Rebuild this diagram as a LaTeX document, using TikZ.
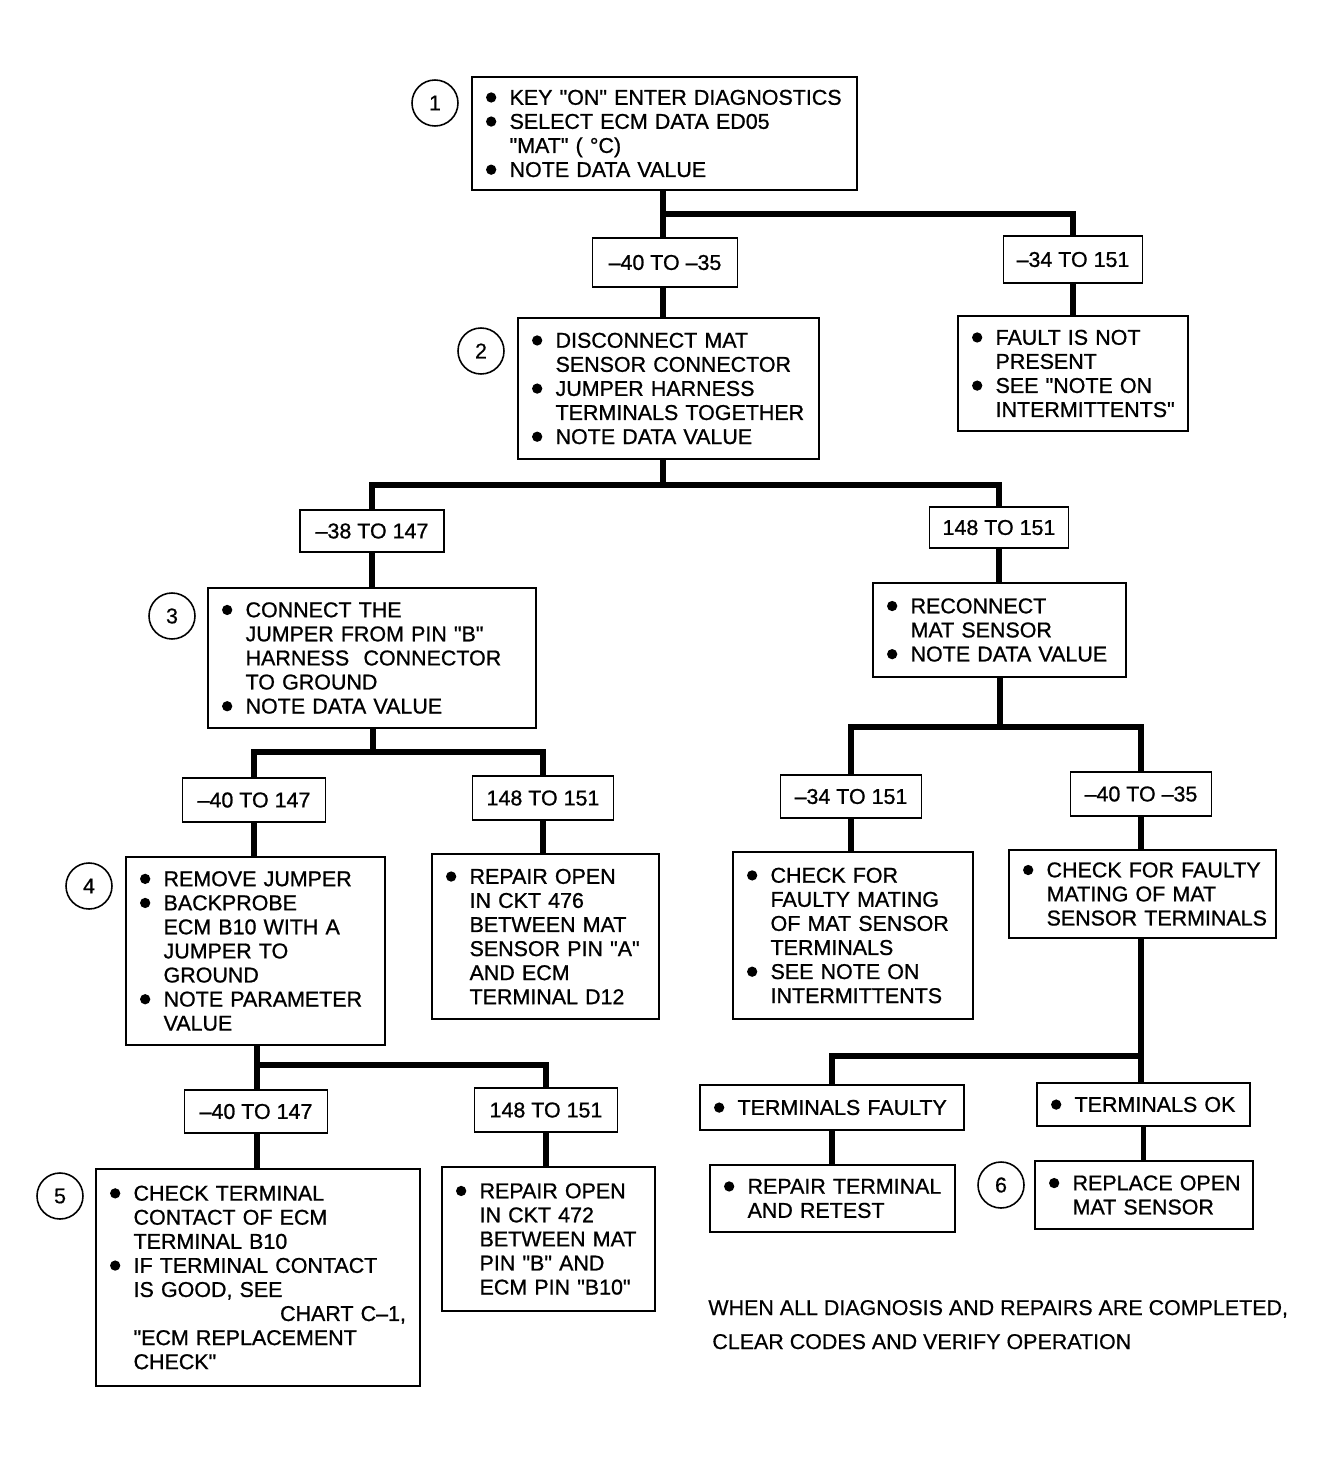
\documentclass[tikz,border=0pt]{standalone}
\usepackage{fontspec}
\newfontfamily\chartfont[FakeBold=0.9]{Liberation Sans}
\newfontfamily\notefont[FakeBold=0.5]{Liberation Sans}
\newcommand{\bul}{\makebox[1.1em][l]{\tikz[baseline=-0.34em]\fill (0.24em,0) circle (0.24em);}}
\newcommand{\itm}[1]{\mbox{\bul#1}}
\newcommand{\cnt}[1]{\mbox{\hspace*{1.1em}#1}}
\begin{document}
\begin{tikzpicture}[x=0.02cm, y=-0.02cm,
	box/.style={draw, line width=1.1pt, inner xsep=0.28cm, inner ysep=0pt, align=left, font=\chartfont\fontsize{12.2}{13.7}\selectfont},
	rangebox/.style={draw, line width=1.1pt, inner sep=0pt, font=\chartfont\fontsize{12.2}{13.7}\selectfont},
	num/.style={circle, draw, line width=0.9pt, minimum size=0.92cm, inner sep=0pt, font=\notefont\fontsize{12.2}{13.7}\selectfont},
	conn/.style={line width=3pt}]
	\useasboundingbox (0,0) rectangle (1338,1463);
	% steps
	\node[num] (c1) at (435,103) {1};
	\node[box, text width=7.14cm, minimum height=2.26cm] (b1) at (664.5,133.5) {\itm{KEY "ON" ENTER DIAGNOSTICS}\\ \itm{SELECT ECM DATA ED05}\\ \cnt{"MAT" ( °C)}\\ \itm{NOTE DATA VALUE}};
	\node[num] (c2) at (481,351) {2};
	\node[box, text width=5.46cm, minimum height=2.82cm] (b2) at (668.5,388.5) {\itm{DISCONNECT MAT}\\ \cnt{SENSOR CONNECTOR}\\ \itm{JUMPER HARNESS}\\ \cnt{TERMINALS TOGETHER}\\ \itm{NOTE DATA VALUE}};
	\node[box, text width=4.04cm, minimum height=2.3cm] (r1) at (1073,373.5) {\itm{FAULT IS NOT}\\ \cnt{PRESENT}\\ \itm{SEE "NOTE ON}\\ \cnt{INTERMITTENTS"}};
	\node[num] (c3) at (172,616) {3};
	\node[box, text width=6.0cm, minimum height=2.8cm] (b3) at (372,658) {\itm{CONNECT THE}\\ \cnt{JUMPER FROM PIN "B"}\\ \cnt{HARNESS\ \ CONNECTOR}\\ \cnt{TO GROUND}\\ \itm{NOTE DATA VALUE}};
	\node[box, text width=4.5cm, minimum height=1.88cm] (r2) at (999.5,630) {\itm{RECONNECT}\\ \cnt{MAT SENSOR}\\ \itm{NOTE DATA VALUE}};
	\node[num] (c4) at (89,886) {4};
	\node[box, text width=4.62cm, minimum height=3.76cm] (b4) at (255.5,951) {\itm{REMOVE JUMPER}\\ \itm{BACKPROBE}\\ \cnt{ECM B10 WITH A}\\ \cnt{JUMPER TO}\\ \cnt{GROUND}\\ \itm{NOTE PARAMETER}\\ \cnt{VALUE}};
	\node[box, text width=3.98cm, minimum height=3.3cm] (b476) at (545.5,936.5) {\itm{REPAIR OPEN}\\ \cnt{IN CKT 476}\\ \cnt{BETWEEN MAT}\\ \cnt{SENSOR PIN "A"}\\ \cnt{AND ECM}\\ \cnt{TERMINAL D12}};
	\node[box, text width=4.24cm, minimum height=3.34cm] (cf1) at (853,935.5) {\itm{CHECK FOR}\\ \cnt{FAULTY MATING}\\ \cnt{OF MAT SENSOR}\\ \cnt{TERMINALS}\\ \itm{SEE NOTE ON}\\ \cnt{INTERMITTENTS}};
	\node[box, text width=4.78cm, minimum height=1.76cm] (cf2) at (1142.5,894) {\itm{CHECK FOR FAULTY}\\ \cnt{MATING OF MAT}\\ \cnt{SENSOR TERMINALS}};
	\node[num] (c5) at (60,1196) {5};
	\node[box, text width=5.92cm, minimum height=4.34cm] (b5) at (258,1277.5) {\itm{CHECK TERMINAL}\\ \cnt{CONTACT OF ECM}\\ \cnt{TERMINAL B10}\\ \itm{IF TERMINAL CONTACT}\\ \cnt{IS GOOD, SEE}\\ \hfill CHART C–1,\\ \cnt{"ECM REPLACEMENT}\\ \cnt{CHECK"}};
	\node[box, text width=3.7cm, minimum height=2.88cm] (b472) at (548.5,1239) {\itm{REPAIR OPEN}\\ \cnt{IN CKT 472}\\ \cnt{BETWEEN MAT}\\ \cnt{PIN "B" AND}\\ \cnt{ECM PIN "B10"}};
	\node[box, text width=4.72cm, minimum height=0.9cm] (tf) at (832,1107.5) {\itm{TERMINALS FAULTY}};
	\node[box, text width=3.7cm, minimum height=0.86cm] (tok) at (1143.5,1104.5) {\itm{TERMINALS OK}};
	\node[box, text width=4.34cm, minimum height=1.34cm] (rt) at (832.5,1198.5) {\itm{REPAIR TERMINAL}\\ \cnt{AND RETEST}};
	\node[num] (c6) at (1001,1185) {6};
	\node[box, text width=3.8cm, minimum height=1.36cm] (ro) at (1144,1195) {\itm{REPLACE OPEN}\\ \cnt{MAT SENSOR}};
	% ranges
	\node[rangebox, minimum width=2.9cm, minimum height=0.98cm] (L1) at (665,262.5) {–40 TO –35};
	\node[rangebox, minimum width=2.78cm, minimum height=0.94cm] (L2) at (1073,259.5) {–34 TO 151};
	\node[rangebox, minimum width=2.88cm, minimum height=0.84cm] (L3) at (372,531) {–38 TO 147};
	\node[rangebox, minimum width=2.78cm, minimum height=0.82cm] (L4) at (999,527.5) {148 TO 151};
	\node[rangebox, minimum width=2.86cm, minimum height=0.88cm] (L5) at (254,800) {–40 TO 147};
	\node[rangebox, minimum width=2.82cm, minimum height=0.88cm] (L6) at (543,798) {148 TO 151};
	\node[rangebox, minimum width=2.82cm, minimum height=0.86cm] (L7) at (851,796.5) {–34 TO 151};
	\node[rangebox, minimum width=2.82cm, minimum height=0.88cm] (L8) at (1141,794) {–40 TO –35};
	\node[rangebox, minimum width=2.86cm, minimum height=0.86cm] (L9) at (256,1111.5) {–40 TO 147};
	\node[rangebox, minimum width=2.86cm, minimum height=0.88cm] (L10) at (546,1110) {148 TO 151};
	% connectors
	\coordinate (j1) at (663,214);
	\coordinate (j2) at (663,485);
	\coordinate (j3) at (373,752);
	\coordinate (j4) at (257,1065);
	\coordinate (j5) at (1000,727);
	\coordinate (j6) at (1141,1056);
	\draw[conn] (b1.south -| j1) -- (j1) -| (L2.north);
	\draw[conn] (j1) -- (L1.north -| j1);
	\draw[conn] (L1.south -| j1) -- (b2.north -| j1);
	\draw[conn] (L2) -- (r1);
	\draw[conn] (b2.south -| j2) -- (j2);
	\draw[conn] (L3.north) |- (j2) -| (L4.north);
	\draw[conn] (L3) -- (b3);
	\draw[conn] (L4.south) -- (L4.south |- r2.north);
	\draw[conn] (b3.south -| j3) -- (j3);
	\draw[conn] (L5.north) |- (j3) -| (L6.north);
	\draw[conn] (L5.south) -- (L5.south |- b4.north);
	\draw[conn] (L6.south) -- (L6.south |- b476.north);
	\draw[conn] (b4.south -| j4) -- (j4) -| (L10.north);
	\draw[conn] (j4) -- (L9.north -| j4);
	\draw[conn] (L9.south -| j4) -- (b5.north -| j4);
	\draw[conn] (L10.south) -- (L10.south |- b472.north);
	\draw[conn] (r2.south -| j5) -- (j5);
	\draw[conn] (L7.north) |- (j5) -| (L8.north);
	\draw[conn] (L7.south) -- (L7.south |- cf1.north);
	\draw[conn] (L8.south) -- (L8.south |- cf2.north);
	\draw[conn] (cf2.south -| j6) -- (j6) -- (tok.north -| j6);
	\draw[conn] (j6) -| (tf.north);
	\draw[conn] (tf.south) -- (tf.south |- rt.north);
	\draw[conn] (tok.south) -- (tok.south |- ro.north);
	% footer
	\node[anchor=base west, inner sep=0pt, font=\notefont\fontsize{12.2}{13.7}\selectfont] (n1) at (708,1315) {WHEN ALL DIAGNOSIS AND REPAIRS ARE COMPLETED,};
	\node[anchor=base west, inner sep=0pt, font=\notefont\fontsize{12.2}{13.7}\selectfont] (n2) at (712,1349) {CLEAR CODES AND VERIFY OPERATION};
\end{tikzpicture}
\end{document}
